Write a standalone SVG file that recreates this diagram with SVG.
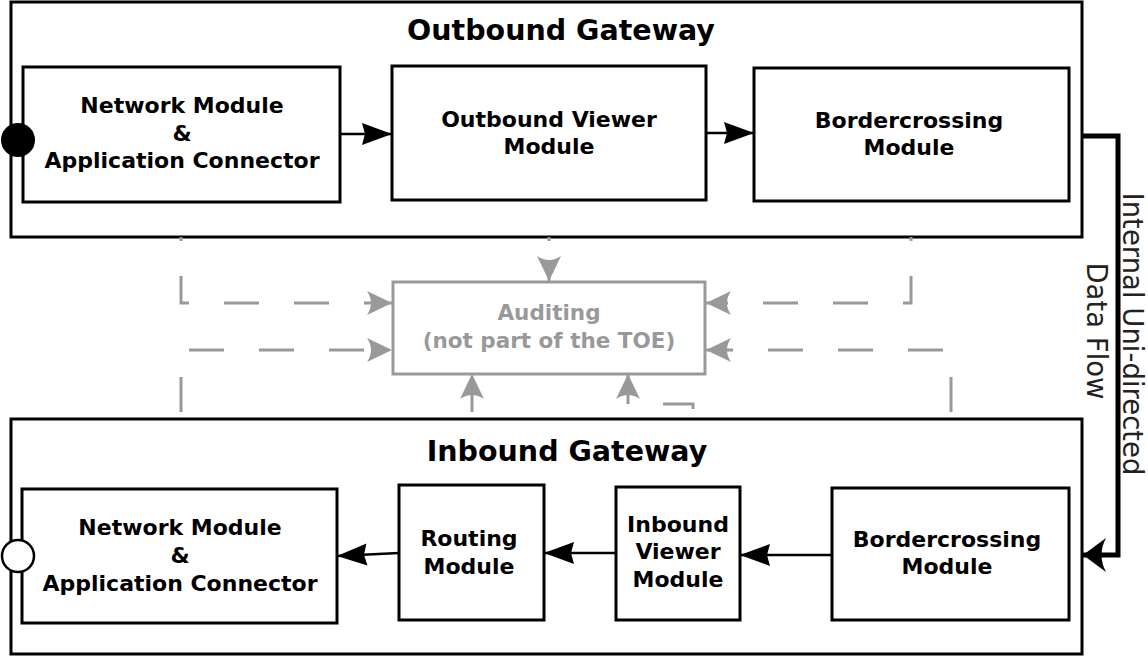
<svg xmlns="http://www.w3.org/2000/svg" width="1148" height="656" viewBox="0 0 1148 656">
  <style>
    .box { fill: #ffffff; stroke: #000000; stroke-width: 3; }
    .frame { fill: none; stroke: #000000; stroke-width: 3; }
    .lbl { font-family: "DejaVu Sans", "Liberation Sans", sans-serif; font-weight: bold; font-size: 22px; fill: #000000; text-anchor: middle; }
    .title { font-family: "DejaVu Sans", "Liberation Sans", sans-serif; font-weight: bold; font-size: 28.5px; fill: #000000; text-anchor: middle; }
    .audit { fill: #ffffff; stroke: #999999; stroke-width: 3; }
    .alabel { font-family: "DejaVu Sans", "Liberation Sans", sans-serif; font-weight: bold; font-size: 21.5px; fill: #999999; text-anchor: middle; }
    .flow { stroke: #000000; stroke-width: 2.5; fill: none; }
    .dash { stroke: #999999; stroke-width: 3; fill: none; stroke-dasharray: 35 35; }
    .vlabel { font-family: "DejaVu Sans", "Liberation Sans", sans-serif; font-size: 27.5px; fill: #222222; text-anchor: middle; }
  </style>
  <defs>
    <marker id="blk" markerUnits="userSpaceOnUse" markerWidth="32" markerHeight="24" refX="30" refY="11" orient="auto" overflow="visible">
      <path d="M0,0 L30,11 L0,22 L3,11 Z" fill="#000000"/>
    </marker>
    <marker id="gry" markerUnits="userSpaceOnUse" markerWidth="28" markerHeight="26" refX="25" refY="12" orient="auto" overflow="visible">
      <path d="M0,0 L25,12 L0,24 Q8,12 0,0 Z" fill="#999999"/>
    </marker>
    <marker id="big" markerUnits="userSpaceOnUse" markerWidth="26" markerHeight="36" refX="23" refY="17" orient="auto" overflow="visible">
      <path d="M0,0 L23,17 L0,34 Q9,17 0,0 Z" fill="#000000"/>
    </marker>
  </defs>

  <g id="outbound-gateway">
    <rect class="frame" x="11" y="2" width="1071" height="235"/>
    <text class="title" x="561" y="40">Outbound Gateway</text>
  </g>

  <g id="inbound-gateway">
    <rect class="frame" x="11" y="419" width="1071" height="235"/>
    <text class="title" x="567" y="461">Inbound Gateway</text>
  </g>

  <g id="connectors">
    <!-- outbound flow -->
    <line class="flow" x1="340" y1="134" x2="392" y2="134" marker-end="url(#blk)"/>
    <line class="flow" x1="706" y1="133" x2="754" y2="133" marker-end="url(#blk)"/>
    <!-- inbound flow -->
    <line class="flow" x1="832" y1="555" x2="740" y2="555" marker-end="url(#blk)"/>
    <line class="flow" x1="616" y1="553" x2="544" y2="553" marker-end="url(#blk)"/>
    <line class="flow" x1="399" y1="553" x2="337" y2="556" marker-end="url(#blk)"/>
    <!-- internal uni-directed data flow -->
    <path d="M1082,136 H1118 V555 H1083" stroke="#000000" stroke-width="5" fill="none" marker-end="url(#big)"/>
    <!-- auditing (dashed) -->
    <path class="dash" d="M181,237 V303 H392" stroke-dashoffset="31" marker-end="url(#gry)"/>
    <path class="dash" d="M181,412 V350 H392" marker-end="url(#gry)"/>
    <path class="dash" d="M549,237 V281" stroke-dashoffset="31" marker-end="url(#gry)"/>
    <path class="dash" d="M911,237 V303 H706" stroke-dashoffset="31" marker-end="url(#gry)"/>
    <path class="dash" d="M951,412 V350 H706" marker-end="url(#gry)"/>
    <path class="dash" d="M472,412 V374" marker-end="url(#gry)"/>
    <path class="dash" d="M693,409 V404 H628 V374" marker-end="url(#gry)"/>
  </g>

  <g id="out-network">
    <rect class="box" x="23" y="67" width="317" height="135"/>
    <text class="lbl" x="182" y="113">Network Module</text>
    <text class="lbl" x="182" y="141">&amp;</text>
    <text class="lbl" x="182" y="168">Application Connector</text>
  </g>
  <g id="out-port">
    <circle cx="18" cy="140" r="16" fill="#000000" stroke="#000000" stroke-width="2"/>
  </g>

  <g id="out-viewer">
    <rect class="box" x="392" y="66" width="314" height="134"/>
    <text class="lbl" x="549" y="127">Outbound Viewer</text>
    <text class="lbl" x="549" y="154">Module</text>
  </g>

  <g id="out-border">
    <rect class="box" x="754" y="68" width="315" height="133"/>
    <text class="lbl" x="909" y="128">Bordercrossing</text>
    <text class="lbl" x="909" y="155">Module</text>
  </g>

  <g id="auditing">
    <rect class="audit" x="393" y="282" width="312" height="92"/>
    <text class="alabel" x="549" y="320">Auditing</text>
    <text class="alabel" x="549" y="348">(not part of the TOE)</text>
  </g>

  <g id="in-network">
    <rect class="box" x="22" y="489" width="315" height="134"/>
    <text class="lbl" x="180" y="535">Network Module</text>
    <text class="lbl" x="180" y="563">&amp;</text>
    <text class="lbl" x="180" y="591">Application Connector</text>
  </g>
  <g id="in-port">
    <circle cx="18" cy="556" r="16" fill="#ffffff" stroke="#000000" stroke-width="2.5"/>
  </g>

  <g id="in-routing">
    <rect class="box" x="399" y="485" width="145" height="135"/>
    <text class="lbl" x="469" y="546">Routing</text>
    <text class="lbl" x="469" y="574">Module</text>
  </g>

  <g id="in-viewer">
    <rect class="box" x="616" y="487" width="124" height="133"/>
    <text class="lbl" x="678" y="532">Inbound</text>
    <text class="lbl" x="678" y="559">Viewer</text>
    <text class="lbl" x="678" y="587">Module</text>
  </g>

  <g id="in-border">
    <rect class="box" x="832" y="488" width="237" height="132"/>
    <text class="lbl" x="947" y="547">Bordercrossing</text>
    <text class="lbl" x="947" y="574">Module</text>
  </g>

  <g id="flow-label">
    <text class="vlabel" transform="translate(1123,334) rotate(90)">Internal Uni-directed</text>
    <text class="vlabel" transform="translate(1087,331) rotate(90)">Data Flow</text>
  </g>
</svg>
